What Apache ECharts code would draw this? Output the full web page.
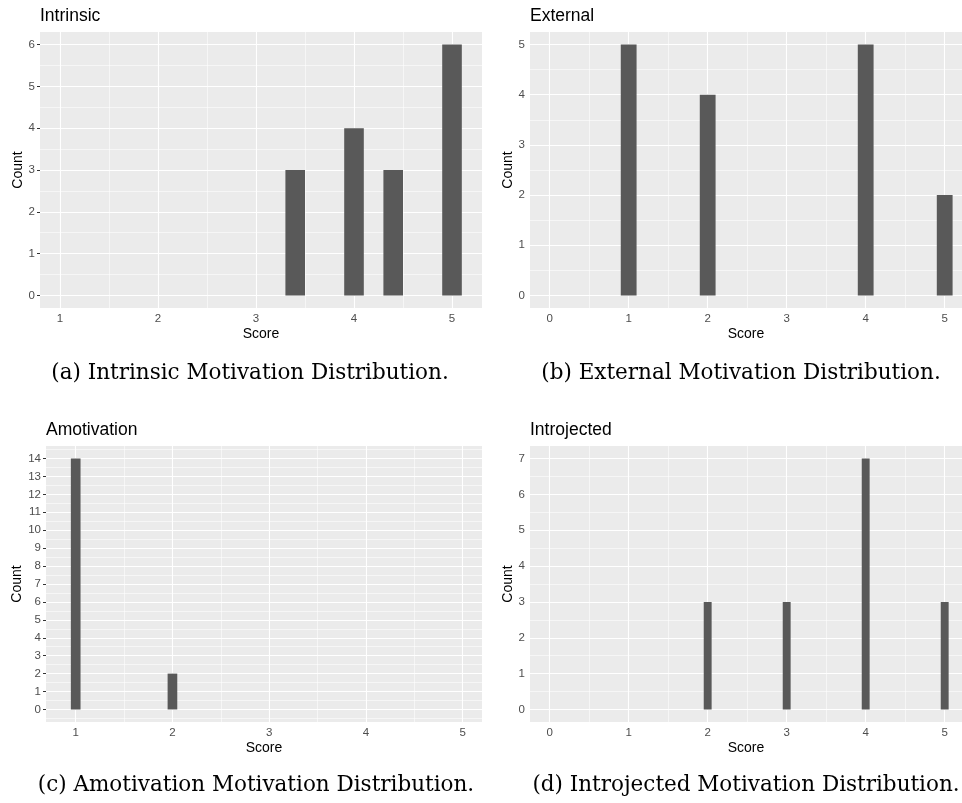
<!DOCTYPE html>
<html>
<head>
<meta charset="utf-8">
<script src="https://cdn.jsdelivr.net/npm/echarts@6/dist/echarts.min.js"></script>
<style>html,body{margin:0;padding:0;background:#fff;}#chart{width:962px;height:803px;}</style>
</head>
<body>
<div id="chart"></div>
<script>
// ---- Data ----
const panelTitles = ['Intrinsic', 'External', 'Amotivation', 'Introjected'];
const captions = [
  '(a) Intrinsic Motivation Distribution.',
  '(b) External Motivation Distribution.',
  '(c) Amotivation Motivation Distribution.',
  '(d) Introjected Motivation Distribution.'
];
// histogram bins: centers, widths, counts
const intrinsicCenters = [3.4, 4.0, 4.4, 5.0];
const intrinsicCounts = [3, 4, 3, 6];
const intrinsicBinWidth = 0.2;
const externalCenters = [1, 2, 4, 5];
const externalCounts = [5, 4, 5, 2];
const externalBinWidth = 0.2;
const amotivationCenters = [1, 2];
const amotivationCounts = [14, 2];
const amotivationBinWidth = 0.1;
const introjectedCenters = [2, 3, 4, 5];
const introjectedCounts = [3, 3, 7, 3];
const introjectedBinWidth = 0.1;

// axis limits & ticks
const xLimits = [[0.796, 5.306], [-0.249, 5.219], [0.693, 5.2], [-0.249, 5.219]];
const yLimits = [[-0.3, 6.3], [-0.25, 5.25], [-0.7, 14.7], [-0.35, 7.35]];
const xTicksA = [1, 2, 3, 4, 5];
const xTicksB = [0, 1, 2, 3, 4, 5];
const xTicksC = [1, 2, 3, 4, 5];
const xTicksD = [0, 1, 2, 3, 4, 5];
const yTicksA = [0, 1, 2, 3, 4, 5, 6];
const yTicksB = [0, 1, 2, 3, 4, 5];
const yTicksC = [0, 1, 2, 3, 4, 5, 6, 7, 8, 9, 10, 11, 12, 13, 14];
const yTicksD = [0, 1, 2, 3, 4, 5, 6, 7];
const xMinorA = [1.5, 2.5, 3.5, 4.5];
const xMinorB = [0.5, 1.5, 2.5, 3.5, 4.5];
const xMinorC = [1.5, 2.5, 3.5, 4.5];
const xMinorD = [0.5, 1.5, 2.5, 3.5, 4.5];
const yMinorA = [0.5, 1.5, 2.5, 3.5, 4.5, 5.5];
const yMinorB = [0.5, 1.5, 2.5, 3.5, 4.5];
const yMinorC = [-0.5, 0.5, 1.5, 2.5, 3.5, 4.5, 5.5, 6.5, 7.5, 8.5, 9.5, 10.5, 11.5, 12.5, 13.5, 14.5];
const yMinorD = [0.5, 1.5, 2.5, 3.5, 4.5, 5.5, 6.5];
const xAxisName = 'Score';
const yAxisName = 'Count';

// ---- Build ----
const panels = [
  {centers: intrinsicCenters, counts: intrinsicCounts, bw: intrinsicBinWidth, xt: xTicksA, yt: yTicksA, xm: xMinorA, ym: yMinorA},
  {centers: externalCenters, counts: externalCounts, bw: externalBinWidth, xt: xTicksB, yt: yTicksB, xm: xMinorB, ym: yMinorB},
  {centers: amotivationCenters, counts: amotivationCounts, bw: amotivationBinWidth, xt: xTicksC, yt: yTicksC, xm: xMinorC, ym: yMinorC},
  {centers: introjectedCenters, counts: introjectedCounts, bw: introjectedBinWidth, xt: xTicksD, yt: yTicksD, xm: xMinorD, ym: yMinorD}
];
const gridPos = [
  {left: 40, top: 32, width: 442, height: 276},
  {left: 530, top: 32, width: 432, height: 276},
  {left: 46, top: 446, width: 436, height: 276},
  {left: 530, top: 446, width: 432, height: 276}
];
const yNameGap = [15, 15, 21, 15];
const titlePos = [{left: 40, top: 7}, {left: 530, top: 7}, {left: 46, top: 421}, {left: 530, top: 421}];
const captionPos = [[250, 373], [741, 373], [256, 785], [746, 785]];

const SANS = '"Liberation Sans", Arial, Helvetica, sans-serif';
const SERIF = '"DejaVu Serif", serif';

function renderBar(params, api) {
  const c = api.value(0), w = api.value(1), n = api.value(2);
  const p0 = api.coord([c - w / 2, 0]);
  const p1 = api.coord([c + w / 2, n]);
  return {
    type: 'rect',
    shape: {x: p0[0], y: p1[1], width: p1[0] - p0[0], height: p0[1] - p1[1]},
    style: {fill: '#595959'}
  };
}

const grid = [], xAxis = [], yAxis = [], series = [], title = [], graphic = [];
panels.forEach((p, i) => {
  grid.push(Object.assign({show: true, backgroundColor: '#EBEBEB', borderWidth: 0}, gridPos[i]));
  xAxis.push({
    type: 'value', gridIndex: i, min: xLimits[i][0], max: xLimits[i][1],
    axisLine: {show: false},
    splitLine: {show: false},
    axisTick: {show: true, customValues: p.xt, length: 3, lineStyle: {color: '#333333', width: 1}},
    axisLabel: {customValues: p.xt, color: '#4D4D4D', fontSize: 11.5, fontFamily: SANS, margin: 5},
    name: xAxisName, nameLocation: 'middle', nameGap: 19,
    nameTextStyle: {color: '#000', fontSize: 14, fontFamily: SANS}
  });
  yAxis.push({
    type: 'value', gridIndex: i, min: yLimits[i][0], max: yLimits[i][1],
    axisLine: {show: false},
    splitLine: {show: false},
    axisTick: {show: true, customValues: p.yt, length: 3, lineStyle: {color: '#333333', width: 1}},
    axisLabel: {customValues: p.yt, color: '#4D4D4D', fontSize: 11.5, fontFamily: SANS, margin: 5},
    name: yAxisName, nameLocation: 'middle', nameGap: yNameGap[i], nameRotate: 90,
    nameTextStyle: {color: '#000', fontSize: 14, fontFamily: SANS}
  });
  const lines = [];
  p.xm.forEach(v => lines.push({xAxis: v, lineStyle: {width: 0.55}}));
  p.ym.forEach(v => lines.push({yAxis: v, lineStyle: {width: 0.55}}));
  p.xt.forEach(v => lines.push({xAxis: v, lineStyle: {width: 1.1}}));
  p.yt.forEach(v => lines.push({yAxis: v, lineStyle: {width: 1.1}}));
  series.push({
    type: 'custom', xAxisIndex: i, yAxisIndex: i, z: 3,
    renderItem: renderBar,
    encode: {x: 0, y: 2},
    data: p.centers.map((c, k) => [c, p.bw, p.counts[k]]),
    silent: true,
    markLine: {
      z: 1, silent: true, animation: false, symbol: ['none', 'none'],
      label: {show: false},
      lineStyle: {color: '#FFFFFF', type: 'solid'},
      emphasis: {disabled: true},
      data: lines
    }
  });
  title.push({
    text: panelTitles[i], left: titlePos[i].left, top: titlePos[i].top, padding: 0,
    textStyle: {color: '#000', fontSize: 17.5, fontWeight: 'normal', fontFamily: SANS}
  });
  graphic.push({
    type: 'text', x: captionPos[i][0], y: captionPos[i][1],
    style: {
      text: captions[i], align: 'center', verticalAlign: 'middle',
      textAlign: 'center', textVerticalAlign: 'middle',
      fill: '#000', font: '21.5px ' + SERIF
    }
  });
});

const chart = echarts.init(document.getElementById('chart'), null, {renderer: 'canvas'});
chart.setOption({
  animation: false,
  backgroundColor: '#FFFFFF',
  title, grid, xAxis, yAxis, series, graphic
});
</script>
</body>
</html>
